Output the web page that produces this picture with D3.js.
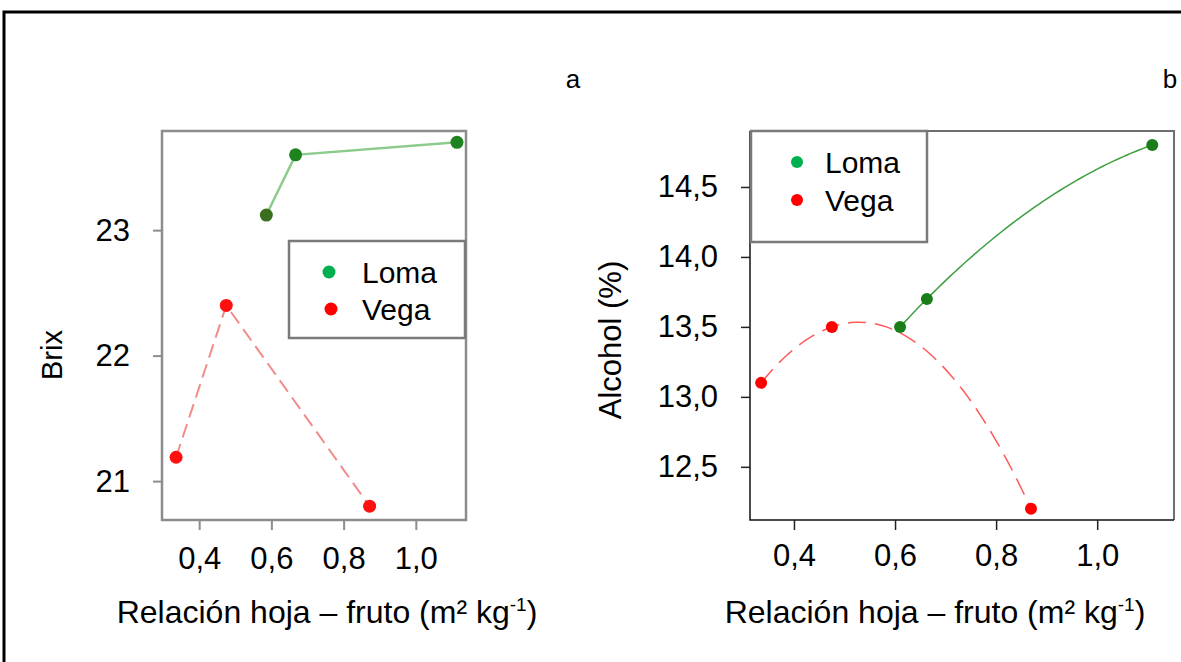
<!DOCTYPE html>
<html>
<head>
<meta charset="utf-8">
<script src="https://cdn.jsdelivr.net/npm/d3@7"></script>
<style>
  body { margin: 0; background: #fff; }
  svg text { font-family: "Liberation Sans", Arial, sans-serif; fill: #000; }
</style>
</head>
<body>
<div id="canvas"></div>
<script>
// data
var series = ["Loma", "Vega"];
var legendColors = ["#00b050", "#ff0000"];

// panel a : Brix
var brixLomaX = [0.586, 0.667, 1.114];
var brixLomaY = [23.12, 23.60, 23.70];
var brixVegaX = [0.336, 0.475, 0.872];
var brixVegaY = [21.19, 22.40, 20.80];
var brixTicks = [21, 22, 23];

// panel b : Alcohol
var alcLomaX = [0.61, 0.663, 1.109];
var alcLomaY = [13.5, 13.7, 14.8];
var alcVegaX = [0.335, 0.475, 0.869];
var alcVegaY = [13.1, 13.5, 12.2];
var alcTicks = [12.5, 13.0, 13.5, 14.0, 14.5];

var xTicks = [0.4, 0.6, 0.8, 1.0];

var width = 1181, height = 662;
var comma = function(d){ return d3.format(".1f")(d).replace(".", ","); };

var svg = d3.select("#canvas").append("svg")
    .attr("width", width)
    .attr("height", height);

svg.append("rect").attr("width", width).attr("height", height).style("fill", "white");

// outer frame (only top and left visible)
svg.append("path")
    .attr("d", "M4,662 L4,12 L1181,12")
    .style("fill", "none")
    .style("stroke", "black")
    .style("stroke-width", 3);

function zip(xs, ys){ return xs.map(function(x, i){ return {x: x, y: ys[i]}; }); }

// quadratic trend through the three points of a series (like the fitted curve of panel b)
function quadFit(xs, ys){
    return function(x){
        var s = 0;
        for (var i = 0; i < 3; i++){
            var t = ys[i];
            for (var j = 0; j < 3; j++) if (j != i) t *= (x - xs[j]) / (xs[i] - xs[j]);
            s += t;
        }
        return s;
    };
}

function xTitle(g, cx, cy){
    var t = g.append("text")
        .attr("x", cx).attr("y", cy)
        .attr("text-anchor", "middle")
        .style("font-size", "32px");
    t.append("tspan").text("Relación hoja – fruto (m² kg");
    t.append("tspan").attr("dy", -12).style("font-size", "19px").text("-1");
    t.append("tspan").attr("dy", 12).text(")");
}

/* ---------- panel a ---------- */
var xa = d3.scaleLinear().domain([0.297, 1.139]).range([162, 466]);
var ya = d3.scaleLinear().domain([20.69, 23.79]).range([520, 131]);

var pa = svg.append("g");

pa.append("rect")
    .attr("x", xa.range()[0]).attr("y", ya.range()[1])
    .attr("width", xa.range()[1] - xa.range()[0])
    .attr("height", ya.range()[0] - ya.range()[1])
    .style("fill", "white")
    .style("stroke", "#8c8c8c")
    .style("stroke-width", 2.5);

var axa = pa.append("g")
    .attr("transform", "translate(0,521)")
    .call(d3.axisBottom(xa).tickValues(xTicks).tickSize(9).tickPadding(17).tickFormat(comma));
var aya = pa.append("g")
    .attr("transform", "translate(161,0)")
    .call(d3.axisLeft(ya).tickValues(brixTicks).tickSize(8).tickPadding(23).tickFormat(d3.format("d")));
[axa, aya].forEach(function(ax){
    ax.select(".domain").remove();
    ax.selectAll("line").style("stroke", "#8c8c8c").style("stroke-width", 2);
    ax.selectAll("text").style("font-size", "31px").style("font-family", "Liberation Sans, Arial, sans-serif");
});

var lineA = d3.line().x(function(d){ return xa(d.x); }).y(function(d){ return ya(d.y); });

pa.append("path")
    .datum(zip(brixLomaX, brixLomaY))
    .attr("d", lineA)
    .style("fill", "none")
    .style("stroke", "#8ccb8c")
    .style("stroke-width", 2.5);

pa.append("path")
    .datum(zip(brixVegaX, brixVegaY))
    .attr("d", lineA)
    .style("fill", "none")
    .style("stroke", "#f08c8c")
    .style("stroke-width", 2)
    .style("stroke-dasharray", "14,7");

pa.selectAll(".loma").data(zip(brixLomaX, brixLomaY)).enter().append("circle")
    .attr("cx", function(d){ return xa(d.x); })
    .attr("cy", function(d){ return ya(d.y); })
    .attr("r", 6.5)
    .style("fill", function(d, i){ return i == 0 ? "#3a6e1e" : "#1e821e"; });

pa.selectAll(".vega").data(zip(brixVegaX, brixVegaY)).enter().append("circle")
    .attr("cx", function(d){ return xa(d.x); })
    .attr("cy", function(d){ return ya(d.y); })
    .attr("r", 6.5)
    .style("fill", "#ff1010");

// legend a
var la = pa.append("g").attr("transform", "translate(289,241)");
la.append("rect").attr("width", 176).attr("height", 97)
    .style("fill", "white").style("stroke", "#7a7a7a").style("stroke-width", 2.5);
series.forEach(function(s, i){
    la.append("circle").attr("cx", 40 + i * 2).attr("cy", 31 + i * 37).attr("r", 6.5).style("fill", legendColors[i]);
    la.append("text").attr("x", 73).attr("y", 31 + i * 37).attr("dy", "0.35em")
        .style("font-size", "30px").text(s);
});

pa.append("text")
    .attr("transform", "translate(62,355) rotate(-90)")
    .attr("text-anchor", "middle")
    .style("font-size", "29px")
    .text("Brix");

xTitle(pa, 327, 623);

svg.append("text").attr("x", 573).attr("y", 88).attr("text-anchor", "middle")
    .style("font-size", "26px").text("a");

/* ---------- panel b ---------- */
var xb = d3.scaleLinear().domain([0.313, 1.152]).range([750, 1174]);
var yb = d3.scaleLinear().domain([12.12, 14.9]).range([520, 131]);

var pb = svg.append("g");

pb.append("path")
    .attr("d", "M750,131 L1174,131 L1174,520")
    .style("fill", "none").style("stroke", "#6e6e6e").style("stroke-width", 2);
pb.append("path")
    .attr("d", "M750,131 L750,520 L1174,520")
    .style("fill", "none").style("stroke", "#111").style("stroke-width", 1.5);

var axb = pb.append("g")
    .attr("transform", "translate(0,520)")
    .call(d3.axisBottom(xb).tickValues(xTicks).tickSize(10).tickPadding(14).tickFormat(comma));
var ayb = pb.append("g")
    .attr("transform", "translate(750,0)")
    .call(d3.axisLeft(yb).tickValues(alcTicks).tickSize(9).tickPadding(23).tickFormat(comma));
[axb, ayb].forEach(function(ax){
    ax.select(".domain").remove();
    ax.selectAll("line").style("stroke", "#222").style("stroke-width", 1.5);
    ax.selectAll("text").style("font-size", "31px").style("font-family", "Liberation Sans, Arial, sans-serif");
});

var lineB = d3.line().x(function(d){ return xb(d.x); }).y(function(d){ return yb(d.y); });

function trend(xs, ys){
    var f = quadFit(xs, ys), lo = d3.min(xs), hi = d3.max(xs);
    return d3.range(0, 61).map(function(k){
        var x = lo + (hi - lo) * k / 60;
        return {x: x, y: f(x)};
    });
}

pb.append("path")
    .datum(trend(alcLomaX, alcLomaY))
    .attr("d", lineB)
    .style("fill", "none")
    .style("stroke", "#3f9e3f")
    .style("stroke-width", 1.5);

pb.append("path")
    .datum(trend(alcVegaX, alcVegaY))
    .attr("d", lineB)
    .style("fill", "none")
    .style("stroke", "#ff5a5a")
    .style("stroke-width", 1.5)
    .style("stroke-dasharray", "18,9");

pb.selectAll(".loma").data(zip(alcLomaX, alcLomaY)).enter().append("circle")
    .attr("cx", function(d){ return xb(d.x); })
    .attr("cy", function(d){ return yb(d.y); })
    .attr("r", 6)
    .style("fill", "#1a7d1a");

pb.selectAll(".vega").data(zip(alcVegaX, alcVegaY)).enter().append("circle")
    .attr("cx", function(d){ return xb(d.x); })
    .attr("cy", function(d){ return yb(d.y); })
    .attr("r", 6)
    .style("fill", "#ff0000");

// legend b
var lb = pb.append("g").attr("transform", "translate(751,131)");
lb.append("rect").attr("width", 176).attr("height", 111)
    .style("fill", "white").style("stroke", "#7a7a7a").style("stroke-width", 2.5);
series.forEach(function(s, i){
    lb.append("circle").attr("cx", 46).attr("cy", 31 + i * 38).attr("r", 6).style("fill", legendColors[i]);
    lb.append("text").attr("x", 74).attr("y", 31 + i * 38).attr("dy", "0.35em")
        .style("font-size", "30px").text(s);
});

pb.append("text")
    .attr("transform", "translate(621,340) rotate(-90)")
    .attr("text-anchor", "middle")
    .style("font-size", "31px")
    .text("Alcohol (%)");

xTitle(pb, 935, 623);

svg.append("text").attr("x", 1170).attr("y", 88).attr("text-anchor", "middle")
    .style("font-size", "26px").text("b");
</script>
</body>
</html>
